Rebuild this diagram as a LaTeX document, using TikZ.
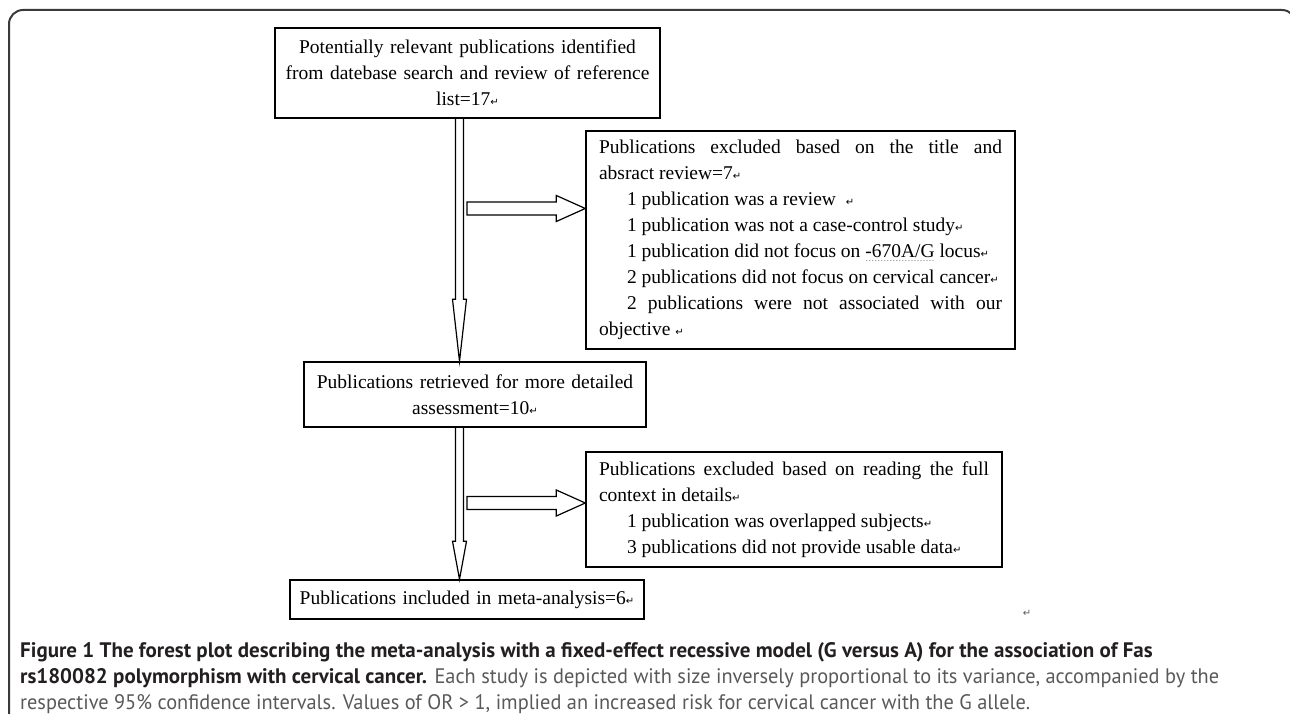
\documentclass[tikz,border=0pt]{standalone}
\usepackage{fontspec}
\setmainfont{Liberation Serif}
\newfontfamily\capfont{PT Sans}
\newfontfamily\capthin[FakeStretch=0.97]{PT Sans}
\newfontfamily\markfont{DejaVu Sans}
\usetikzlibrary{calc}
\definecolor{framegray}{HTML}{3A3A3A}
\definecolor{capgray}{HTML}{58595B}
\definecolor{capdark}{HTML}{231F20}
\newcommand{\retmark}{{\markfont\fontsize{10}{10}\selectfont ↵}}
\newcommand{\itemind}{\hspace*{28pt}}
\newsavebox{\dotbox}
\newcommand{\dotunder}[1]{\sbox{\dotbox}{#1}\rlap{\raisebox{-4pt}{\color{gray}\hbox to \wd\dotbox{\xleaders\hbox to 3pt{\hss\fontsize{10}{10}\selectfont.\hss}\hfil}}}\usebox{\dotbox}}
\tikzset{
	block/.style={draw, line width=1.4pt, inner sep=0pt, font=\fontsize{19.5}{26}\selectfont},
	flow/.style={draw, line width=1.2pt, line join=miter}
}
\newcommand{\downflow}[3]{%
	\draw[flow] ($(#1)+(-4,0)$) -- ($(#2)+(-4,-#3)$) -- ($(#2)+(-7,-#3)$) -- (#2) -- ($(#2)+(7,-#3)$) -- ($(#2)+(4,-#3)$) -- ($(#1)+(4,0)$);}
\newcommand{\rightflow}[2]{%
	\draw[flow] ($(#1)+(0,-6.5)$) -- ($(#2)+(-29,-6.5)$) -- ($(#2)+(-29,-13)$) -- (#2) -- ($(#2)+(-29,13)$) -- ($(#2)+(-29,6.5)$) -- ($(#1)+(0,6.5)$) -- cycle;}

\begin{document}
\begin{tikzpicture}[x=1pt, y=-1pt]
		\useasboundingbox (0,0) rectangle (1290,714);
		\draw[framegray, line width=2pt, rounded corners=14pt] (9,720) -- (9,10) -- (1296,10) -- (1296,40);
		
		\node[block, minimum width=385pt, minimum height=90pt, text width=370pt, align=center] (pool) at (467.5,73) {Potentially relevant publications identified\\ from datebase search and review of reference\\ list=17\retmark};
		\node[block, minimum width=429pt, minimum height=218pt, text width=403pt, align=justify] (excl1) at (800.5,240) {Publications excluded based on the title and\linebreak absract review=7\retmark\\
			\itemind 1 publication was a review \ \retmark\\
			\itemind 1 publication was not a case-control study\retmark\\
			\itemind 1 publication did not focus on \dotunder{-670A/G} locus\retmark\\
			\itemind 2 publications did not focus on cervical cancer\retmark\\
			\itemind 2 publications were not associated with our\linebreak objective \retmark};
		\node[block, minimum width=342pt, minimum height=65pt, text width=330pt, align=center] (full) at (475,394.5) {Publications retrieved for more detailed\\ assessment=10\retmark};
		\node[block, minimum width=416pt, minimum height=115pt, text width=390pt, align=justify] (excl2) at (794,509.5) {Publications excluded based on reading the full\linebreak context in details\retmark\\
			\itemind 1 publication was overlapped subjects\retmark\\
			\itemind 3 publications did not provide usable data\retmark};
		\node[block, minimum width=354pt, minimum height=39pt, text width=340pt, align=center] (incl) at (467,599.5) {Publications included in meta-analysis=6\retmark};
		
		\coordinate (spine) at (459.5,0);
		\coordinate (out1) at (467,208.5);
		\coordinate (out2) at (467,503);
		\downflow{pool.south -| spine}{full.north -| spine}{62}
		\downflow{full.south -| spine}{incl.north -| spine}{38}
		\rightflow{out1}{excl1.west |- out1}
		\rightflow{out2}{excl2.west |- out2}
		
		\node[text=capgray, inner sep=0pt] (stray) at (1027,613) {\retmark};
		\node[anchor=north west, inner sep=0pt, align=left, text=capdark, font=\capfont\fontsize{21}{26}\selectfont] (caption) at (20,642) {\textbf{Figure 1 The forest plot describing the meta-analysis with a fixed-effect recessive model (G versus A) for the association of Fas}\\
			\textbf{rs180082 polymorphism with cervical cancer.} {\capthin\color{capgray}Each study is depicted with size inversely proportional to its variance, accompanied by the}\\
			{\capthin\color{capgray}respective 95\% confidence intervals. Values of OR > 1, implied an increased risk for cervical cancer with the G allele.}};
	\end{tikzpicture}
\end{document}
